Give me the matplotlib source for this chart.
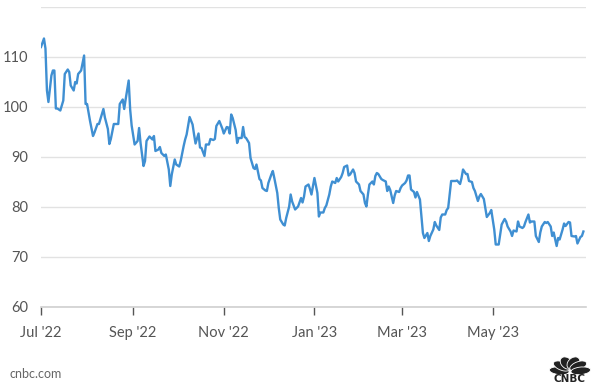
import numpy as np
import pandas as pd
import matplotlib
matplotlib.use("Agg")
import matplotlib.pyplot as plt
from matplotlib.patches import Ellipse

# Days since 2022-07-01 and closing values
start = pd.Timestamp("2022-07-01")
days = [0, 2, 3, 4, 5, 7, 8, 9, 10, 11, 13, 15, 16, 18, 19, 20, 22, 23, 24, 25,
        27, 29, 30, 31, 33, 35, 36, 38, 39, 40, 42, 43, 45, 46, 47, 49, 51, 52, 53, 55,
        56, 57, 59, 60, 61, 63, 65, 66, 67, 69, 70, 71, 73, 75, 76, 77, 79, 80, 81, 83,
        84, 86, 87, 88, 90, 91, 93, 94, 96, 97, 98, 100, 102, 103, 104, 106, 107, 108, 110, 111,
        113, 114, 116, 117, 118, 120, 122, 123, 125, 126, 127, 128, 129, 131, 132, 133, 135, 136, 137, 138,
        140, 141, 143, 144, 145, 147, 148, 149, 151, 152, 153, 155, 156, 157, 159, 160, 161, 163, 164, 165,
        167, 168, 169, 171, 172, 173, 175, 176, 177, 178, 180, 181, 182, 184, 186, 187, 188, 190, 191, 192,
        194, 195, 196, 198, 199, 200, 202, 203, 204, 206, 207, 208, 210, 211, 212, 214, 215, 217, 218, 219,
        220, 221, 223, 224, 225, 226, 227, 229, 230, 232, 233, 234, 235, 237, 238, 239, 241, 242, 243, 245,
        246, 247, 248, 249, 251, 252, 253, 255, 256, 257, 258, 260, 261, 262, 264, 265, 266, 268, 269, 270,
        272, 273, 274, 276, 277, 279, 280, 282, 283, 284, 286, 287, 288, 290, 291, 292, 294, 295, 296, 298,
        299, 300, 302, 303, 305, 306, 308, 309, 310, 312, 313, 314, 316, 317, 318, 320, 321, 322, 324, 325,
        326, 328, 329, 330, 332, 333, 335, 336, 337, 339, 340, 341, 343, 344, 345, 347, 348, 349, 351, 352,
        353, 355, 356, 357, 359, 360, 361, 363, 364, 365]
values = [112.0, 113.7, 111.7, 103.3, 101.0, 106.3, 107.3, 107.3, 99.7, 99.7, 99.3, 101.3, 106.6, 107.5, 107.0, 104.3, 103.3, 105.0, 104.7, 106.6,
          107.3, 110.3, 100.6, 100.6, 97.2, 94.2, 94.9, 96.6, 96.6, 97.6, 99.6, 97.9, 95.6, 92.6, 93.6, 96.6, 96.6, 96.6, 100.6, 101.5,
          99.6, 101.6, 105.3, 99.5, 96.3, 92.5, 93.2, 95.8, 92.8, 88.2, 89.2, 93.2, 94.1, 93.5, 94.2, 91.2, 91.5, 92.0, 90.8, 90.2,
          90.5, 87.5, 84.2, 86.5, 89.5, 88.5, 88.1, 89.2, 92.2, 93.5, 94.5, 98.0, 96.5, 94.5, 92.7, 94.7, 91.9, 91.8, 90.2, 92.5,
          92.5, 93.6, 93.4, 93.6, 96.2, 97.2, 95.7, 94.7, 96.0, 95.9, 94.7, 98.5, 97.8, 95.4, 92.8, 93.8, 93.8, 96.0, 94.0, 93.8,
          92.8, 89.8, 87.8, 87.6, 88.5, 85.6, 85.3, 83.8, 83.3, 83.2, 84.8, 86.5, 87.2, 85.8, 82.8, 79.8, 77.5, 76.5, 76.3, 77.8,
          80.1, 82.5, 81.1, 79.5, 79.8, 80.1, 81.8, 80.9, 82.1, 84.1, 84.5, 83.6, 82.5, 85.8, 82.8, 78.1, 78.9, 78.9, 79.8, 80.3,
          82.5, 84.1, 85.1, 84.8, 85.8, 85.1, 86.0, 86.8, 88.0, 88.3, 86.3, 86.5, 87.5, 86.8, 85.1, 84.5, 83.2, 82.5, 80.8, 80.1,
          82.5, 84.5, 85.1, 84.5, 86.2, 86.8, 86.6, 85.6, 85.4, 85.1, 83.2, 84.1, 83.4, 80.8, 82.3, 83.2, 83.0, 83.8, 84.3, 84.8,
          85.3, 86.3, 86.3, 83.5, 83.0, 81.9, 83.0, 81.5, 78.1, 74.8, 73.8, 74.8, 73.2, 74.2, 75.5, 77.0, 76.3, 75.4, 77.9, 78.5,
          78.5, 79.4, 79.8, 85.2, 85.2, 85.2, 85.3, 84.6, 85.8, 87.5, 86.6, 86.6, 85.2, 85.0, 83.8, 83.2, 81.2, 82.1, 82.6, 81.6,
          79.8, 78.0, 78.8, 79.4, 75.5, 72.5, 72.5, 74.5, 76.5, 77.6, 77.1, 76.1, 75.1, 74.2, 75.3, 75.1, 77.1, 76.1, 75.8, 76.1,
          77.0, 78.5, 76.9, 77.1, 77.1, 74.2, 73.0, 74.9, 76.1, 77.0, 76.8, 77.0, 76.1, 74.2, 74.9, 72.2, 73.8, 73.5, 75.5, 76.7,
          76.2, 77.0, 76.9, 74.2, 74.1, 74.2, 72.7, 74.0, 74.2, 75.1]

tick_dates = ["2022-07-01", "2022-09-01", "2022-11-01", "2023-01-01", "2023-03-01", "2023-05-01"]
tick_labels = ["Jul '22", "Sep '22", "Nov '22", "Jan '23", "Mar '23", "May '23"]
y_ticks = [60, 70, 80, 90, 100, 110, 120]
y_labels = ["60", "70", "80", "90", "100", "110", ""]

dates = start + pd.to_timedelta(days, unit="D")

plt.rcParams['font.family'] = ['Lato', 'DejaVu Sans']

W, H = 606, 386
fig = plt.figure(figsize=(W / 100, H / 100), dpi=100)
ax = fig.add_axes([41 / W, 79 / H, 545 / W, 300 / H])

ax.plot(dates, values, color="#3f8fd2", lw=1.7, solid_joinstyle="round", zorder=3)

ax.set_ylim(60, 120)
ax.set_xlim(pd.Timestamp("2022-07-01"), pd.Timestamp("2023-07-02 18:00"))
ax.set_yticks(y_ticks)
ax.set_yticklabels(y_labels)
ax.set_xticks(pd.to_datetime(tick_dates))
ax.set_xticklabels(tick_labels)

for s in ["top", "right", "left"]:
    ax.spines[s].set_visible(False)
ax.spines["bottom"].set_color("#d0d0d0")
ax.spines["bottom"].set_linewidth(1.2)
ax.spines["bottom"].set_zorder(1)

ax.grid(axis="y", color="#e2e2e2", lw=1.0, zorder=0)
ax.set_axisbelow(True)

ax.tick_params(axis="y", length=0, pad=9.5, labelsize=10.5, labelcolor="#555555")
ax.tick_params(axis="x", length=6, width=1, color="#555555", direction="out",
               pad=8, labelsize=10.5, labelcolor="#555555")

fig.text(9 / W, 1 - 374 / H, "cnbc.com", fontsize=9, color="#666666", va="center", ha="left")

# CNBC peacock logo (simplified)
bx, by = 570, 373
for ang in [168, 138, 108, 72, 42, 12]:
    r = 11
    ex = bx + r * np.cos(np.radians(ang))
    ey = by - r * np.sin(np.radians(ang)) * 0.95
    e = Ellipse((ex / W, 1 - ey / H), width=20 / W, height=7.5 / H,
                angle=ang, transform=fig.transFigure, facecolor="#222222",
                edgecolor="white", lw=0.6)
    fig.patches.append(e)
fig.text(570 / W, 1 - 379 / H, "CNBC", fontsize=7.5, fontweight="black", color="#222222",
         ha="center", va="center", family="DejaVu Sans")

fig.savefig("out.png", dpi=100)
